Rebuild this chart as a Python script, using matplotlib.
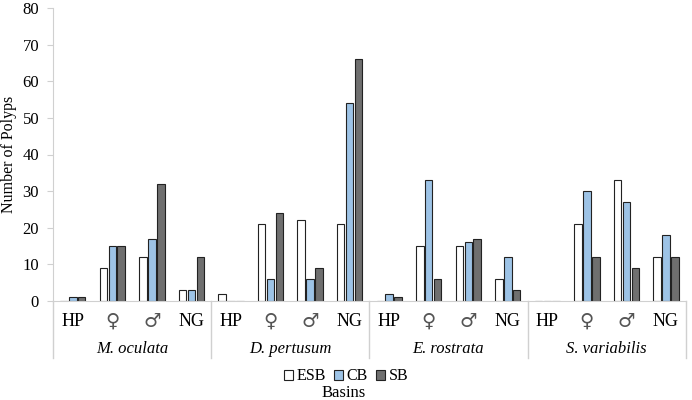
import numpy as np
import matplotlib
matplotlib.use("Agg")
import matplotlib.pyplot as plt
from matplotlib.transforms import blended_transform_factory

plt.rcParams['font.family'] = ['Liberation Serif', 'DejaVu Serif']

species = ["M. oculata", "D. pertusum", "E. rostrata", "S. variabilis"]
stages = ["HP", "\u2640", "\u2642", "NG"]
basins = ["ESB", "CB", "SB"]

# values per species, in stage order HP, female, male, NG
esb = [0, 9, 12, 3,   2, 21, 22, 21,   0, 15, 15, 6,   0, 21, 33, 12]
cb = [1, 15, 17, 3,   0, 6, 6, 54,     2, 33, 16, 12,  0, 30, 27, 18]
sb = [1, 15, 32, 12,  0, 24, 9, 66,    1, 6, 17, 3,    0, 12, 9, 12]

colors = ["white", "#9dc3e6", "#6f6f6f"]

fig = plt.figure(figsize=(6.92, 4.0), dpi=100)
ax = fig.add_axes([0.0766, 0.2475, 0.9144, 0.7325])

n = len(esb)
x = np.arange(n)
w = 0.19
step = 0.225
for k, (vals, col, lab) in enumerate(zip([esb, cb, sb], colors, basins)):
    ax.bar(x + (k - 1) * step, vals, width=w, color=col,
           edgecolor="#222222", linewidth=0.8, label=lab)

ax.set_xlim(-0.5, n - 0.5)
ax.set_ylim(0, 80)
ax.set_yticks(range(0, 81, 10))
ax.tick_params(axis="y", labelsize=12, length=4, color="#d0d0d0", pad=6)

ax.set_xticks(x)
ax.set_xticklabels([])
ax.tick_params(axis="x", length=0)

trans = blended_transform_factory(ax.transData, ax.transAxes)
for xi, lab in zip(x, stages * len(species)):
    if lab in ("\u2640", "\u2642"):
        ax.text(xi, -0.07, lab, transform=trans, ha="center", va="center",
                fontsize=14, family=["DejaVu Sans", "DejaVu Serif"],
                color="#555555")
    else:
        ax.text(xi, -0.07, lab, transform=trans, ha="center", va="center",
                fontsize=13)

for s in ["top", "right"]:
    ax.spines[s].set_visible(False)
ax.spines["left"].set_color("#d0d0d0")
ax.spines["bottom"].set_color("#d0d0d0")

# species separators and group labels
for b in np.arange(-0.5, n, 4):
    ax.plot([b, b], [0, -0.195], color="#d0d0d0", lw=1,
            transform=trans, clip_on=False)
for i, sp in enumerate(species):
    ax.text(i * 4 + 1.5, -0.165, sp, transform=trans, ha="center",
            va="center", fontsize=12, style="italic")

ax.set_ylabel("Number of Polyps", fontsize=11.5, labelpad=4)

leg = ax.legend(loc="upper center", bbox_to_anchor=(0.463, -0.203),
                ncol=3, frameon=False, fontsize=11.5, handlelength=0.6,
                handleheight=0.6, handletextpad=0.2, columnspacing=0.5,
                borderpad=0)
fig.text(0.497, 0.018, "Basins", ha="center", va="center", fontsize=12)

fig.savefig("out.png", dpi=100)
